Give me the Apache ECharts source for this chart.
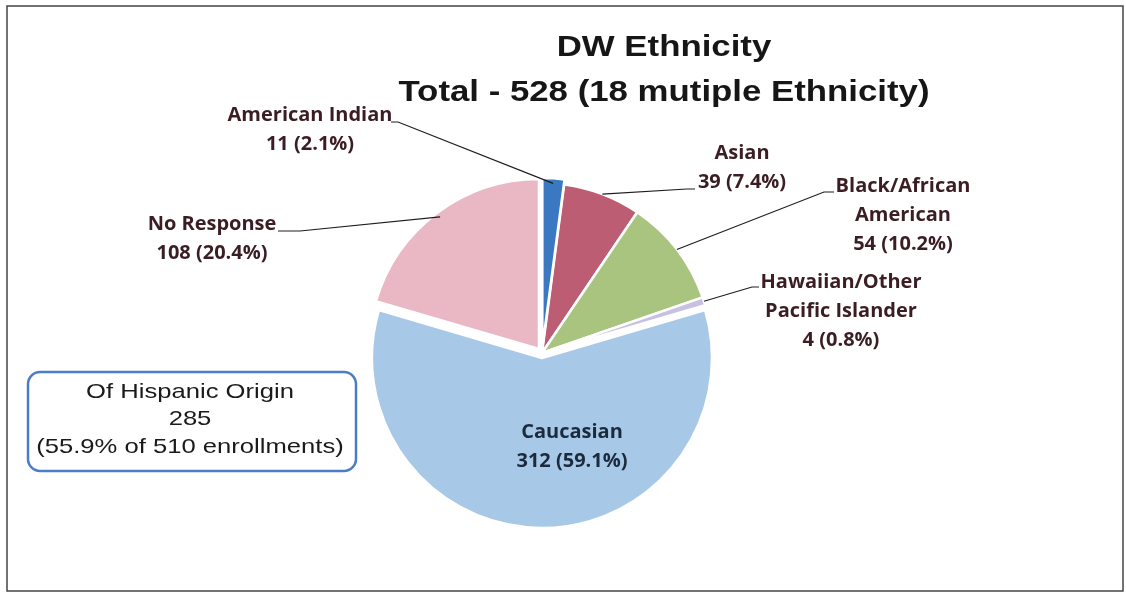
<!DOCTYPE html>
<html>
<head>
<meta charset="utf-8">
<title>DW Ethnicity</title>
<script src="https://cdn.jsdelivr.net/npm/echarts@6/dist/echarts.min.js"></script>
<style>
  html, body { margin: 0; padding: 0; background: #ffffff; }
  #chart { width: 1126px; height: 596px; }
</style>
</head>
<body>
<div id="chart"></div>
<script>
// Enrollment counts by ethnicity, clockwise from 12 o'clock
const categories = ['American Indian', 'Asian', 'Black/African\nAmerican', 'Hawaiian/Other\nPacific Islander', 'Caucasian', 'No Response'];
const counts = [11, 39, 54, 4, 312, 108];
const explodedSlices = ['American Indian', 'Caucasian', 'No Response'];

const titleLines = ['DW Ethnicity', 'Total - 528 (18 mutiple Ethnicity)'];
const hispanicLines = ['Of Hispanic Origin', '285', '(55.9% of 510 enrollments)'];

// Styling
const sliceColors = ['#3a78c2', '#bd5d73', '#a9c47f', '#c7c0e2', '#a8c8e7', '#e9b8c4'];
const labelColors = ['#3b1d24', '#3b1d24', '#3b1d24', '#3b1d24', '#1c2a3e', '#3b1d24'];

// Label block centres and leader elbows (screen px)
const labelSpots = [[310, 130], [742, 168], [903, 215], [841, 311], [572, 447], [212, 239]];
const leaderBends = [
  [[398, 122], [391, 122]],
  [[687, 189], [695, 189]],
  [[824, 192], [834, 192]],
  [[752, 287], [759, 287]],
  null,
  [[300, 231], [278, 231]]
];

const PIE_CENTER = [542, 353];
const PIE_RADIUS = 170;

const chart = echarts.init(document.getElementById('chart'), null, { renderer: 'canvas' });

// Visible slices (some pulled out from the centre)
const sliceData = categories.map((name, i) => ({
  name: name,
  value: counts[i],
  selected: explodedSlices.indexOf(name) >= 0,
  itemStyle: { color: sliceColors[i] }
}));

// Same values again, carrying the text labels and leader lines
const labelData = categories.map((name, i) => ({
  name: name,
  value: counts[i],
  label: { color: labelColors[i] },
  labelLine: { show: leaderBends[i] !== null }
}));

const titleGraphics = titleLines.map((t, i) => ({
  type: 'text',
  x: 664,
  y: i === 0 ? 48 : 93,
  scaleX: 1.2,
  style: {
    text: t,
    fontFamily: '"Liberation Sans", Arial, sans-serif',
    fontWeight: 'bold',
    fontSize: 29,
    fill: '#161616',
    align: 'center',
    verticalAlign: 'middle'
  }
}));

const hispanicGraphics = hispanicLines.map((t, i) => ({
  type: 'text',
  x: 190,
  y: 392 + i * 27.5,
  scaleX: 1.22,
  style: {
    text: t,
    fontFamily: '"Liberation Sans", Arial, sans-serif',
    fontSize: 21,
    fill: '#1a1a1a',
    align: 'center',
    verticalAlign: 'middle'
  }
}));

chart.setOption({
  animation: false,
  backgroundColor: '#ffffff',
  graphic: [
    {
      type: 'rect',
      shape: { x: 7, y: 6, width: 1116, height: 585 },
      style: { fill: 'none', stroke: '#444444', lineWidth: 1.5 },
      z: 0
    },
    {
      type: 'rect',
      shape: { x: 28, y: 372, width: 328, height: 99, r: 12 },
      style: { fill: '#ffffff', stroke: '#4b7cc6', lineWidth: 2.5 }
    }
  ].concat(titleGraphics, hispanicGraphics),
  series: [
    {
      type: 'pie',
      z: 2,
      center: PIE_CENTER,
      radius: PIE_RADIUS,
      startAngle: 90,
      clockwise: true,
      selectedMode: 'multiple',
      selectedOffset: 5,
      silent: true,
      itemStyle: { borderColor: '#ffffff', borderWidth: 2.5 },
      label: { show: false },
      labelLine: { show: false },
      data: sliceData
    },
    {
      type: 'pie',
      z: 5,
      center: PIE_CENTER,
      radius: PIE_RADIUS,
      startAngle: 90,
      clockwise: true,
      percentPrecision: 1,
      silent: true,
      avoidLabelOverlap: false,
      itemStyle: { color: 'rgba(0,0,0,0)', borderWidth: 0 },
      label: {
        show: true,
        position: 'outside',
        formatter: '{b}\n{c} ({d}%)',
        fontFamily: '"Open Sans", sans-serif',
        fontWeight: 'bold',
        fontSize: 20,
        lineHeight: 29,
        align: 'center'
      },
      labelLine: {
        show: true,
        lineStyle: { color: '#1e1e1e', width: 1.2 }
      },
      labelLayout: function (params) {
        const i = params.dataIndex;
        const spot = labelSpots[i];
        const out = { x: spot[0], y: spot[1], align: 'center', verticalAlign: 'middle' };
        const bend = leaderBends[i];
        if (bend && params.labelLinePoints) {
          out.labelLinePoints = [params.labelLinePoints[0], bend[0], bend[1]];
        }
        return out;
      },
      data: labelData
    }
  ]
});
</script>
</body>
</html>
